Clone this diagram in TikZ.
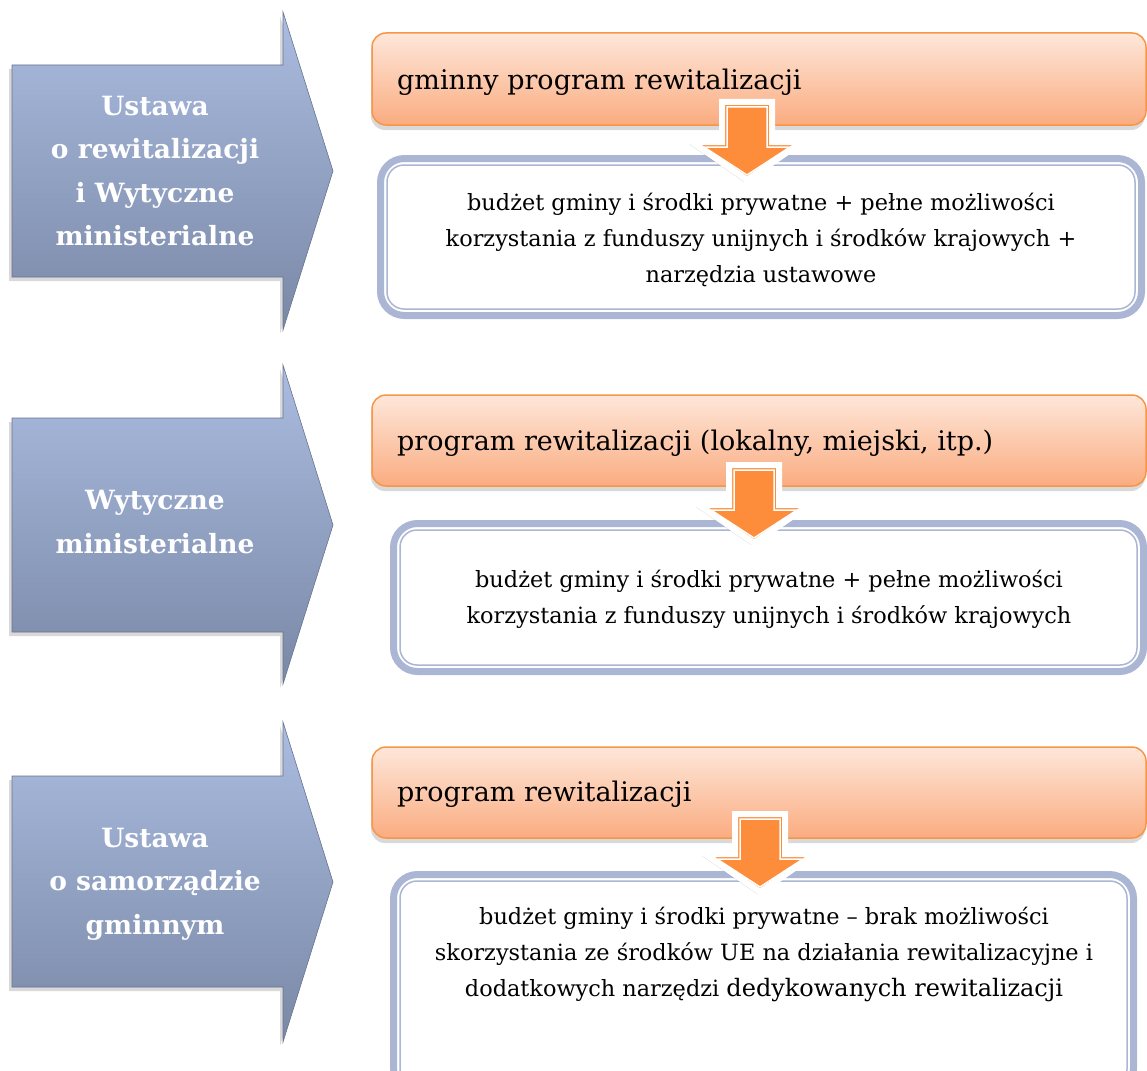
\documentclass[tikz,border=0pt]{standalone}
\usepackage{fontspec}
\setmainfont{DejaVu Serif}
\usetikzlibrary{shadows}

\definecolor{niebieskiG}{RGB}{170,188,224}
\definecolor{niebieskiD}{RGB}{122,136,166}
\definecolor{pomG}{RGB}{254,231,218}
\definecolor{pomD}{RGB}{250,172,128}
\definecolor{pomRamka}{RGB}{247,150,70}
\definecolor{pomStrz}{RGB}{253,141,58}
\definecolor{ramkaN}{RGB}{170,182,212}

\begin{document}
\begin{tikzpicture}[x=1pt,y=-1pt,
	lewa/.style={top color=niebieskiG,bottom color=niebieskiD,draw=niebieskiD!85!black,line width=0.6,
		drop shadow={opacity=0.3,shadow xshift=-3pt,shadow yshift=-4pt}},
	lewytekst/.style={text=white,align=center,inner sep=0pt,font=\bfseries\fontsize{26.5}{43.5}\selectfont},
	pasek/.style={rounded corners=14,top color=pomG,bottom color=pomD,draw=pomRamka,line width=1.5,
		drop shadow={opacity=0.3,shadow xshift=-1pt,shadow yshift=-5pt}},
	pasektekst/.style={anchor=base west,inner sep=0pt,font=\fontsize{27}{32}\selectfont},
	ramka/.style={rounded corners=24,draw=ramkaN,line width=7,fill=white},
	ramkaw/.style={rounded corners=17,draw=ramkaN,line width=1.5},
	tekst/.style={align=center,inner sep=0pt,font=\fontsize{22.4}{36}\selectfont},
	dol/.style={fill=pomStrz,draw=white,line width=6,
		drop shadow={opacity=0.3,shadow xshift=-3pt,shadow yshift=-2pt}},
	dolw/.style={draw=white,line width=1.5}]
\useasboundingbox (0,0) rectangle (1147,1070);

% lewe strzalki
\draw[lewa](12,65)--(283,65)--(283,12)--(333,171)--(283,330)--(283,277)--(12,277)--cycle;
\draw[lewa](12,418)--(283,418)--(283,365)--(333,525)--(283,684)--(283,632)--(12,632)--cycle;
\draw[lewa](12,776)--(283,776)--(283,722)--(333,882)--(283,1042)--(283,987)--(12,987)--cycle;
\node[lewytekst](l1) at(155,171){Ustawa\\o rewitalizacji\\i Wytyczne\\ministerialne};
\node[lewytekst](l2) at(155,522){Wytyczne\\ministerialne};
\node[lewytekst](l3) at(155,884){Ustawa\\o samorządzie\\gminnym};

% ramki
\draw[ramka](380.5,158.5) rectangle (1141.5,315.5);
\draw[ramkaw](387,165) rectangle (1135,309);
\draw[ramka](393.5,523.5) rectangle (1143.5,671.5);
\draw[ramkaw](400,530) rectangle (1137,665);
\draw[ramka](393.5,874.5) rectangle (1133.5,1092);
\draw[ramkaw](400,881) rectangle (1127,1086);
\node[tekst](t1) at(761,240){budżet gminy i środki prywatne + pełne możliwości\\korzystania z funduszy unijnych i środków krajowych +\\narzędzia ustawowe};
\node[tekst](t2) at(769,599){budżet gminy i środki prywatne + pełne możliwości\\korzystania z funduszy unijnych i środków krajowych};
\node[tekst](t3) at(764,954){budżet gminy i środki prywatne – brak możliwości\\skorzystania ze środków UE na działania rewitalizacyjne i\\dodatkowych narzędzi {\fontsize{24}{36}\selectfont dedykowanych rewitalizacji}};

% paski
\draw[pasek](372,33) rectangle (1146,125);
\draw[pasek](372,395) rectangle (1146,486);
\draw[pasek](372,747) rectangle (1146,838);
\node[pasektekst](p1) at(397,90){gminny program rewitalizacji};
\node[pasektekst](p2) at(397,450){program rewitalizacji (lokalny, miejski, itp.)};
\node[pasektekst](p3) at(397,801){program rewitalizacji};

% strzalki w dol
\draw[dol,shift={(747,102)}](-25,0)--(25,0)--(25,40)--(55,40)--(0,78)--(-55,40)--(-25,40)--cycle;
\draw[dolw,shift={(747,102)}](-20,5)--(20,5)--(20,45)--(43,45)--(0,73)--(-43,45)--(-20,45)--cycle;
\draw[dol,shift={(754,465)}](-25,0)--(25,0)--(25,40)--(55,40)--(0,78)--(-55,40)--(-25,40)--cycle;
\draw[dolw,shift={(754,465)}](-20,5)--(20,5)--(20,45)--(43,45)--(0,73)--(-43,45)--(-20,45)--cycle;
\draw[dol,shift={(760,814)}](-25,0)--(25,0)--(25,40)--(55,40)--(0,78)--(-55,40)--(-25,40)--cycle;
\draw[dolw,shift={(760,814)}](-20,5)--(20,5)--(20,45)--(43,45)--(0,73)--(-43,45)--(-20,45)--cycle;
\end{tikzpicture}
\end{document}
